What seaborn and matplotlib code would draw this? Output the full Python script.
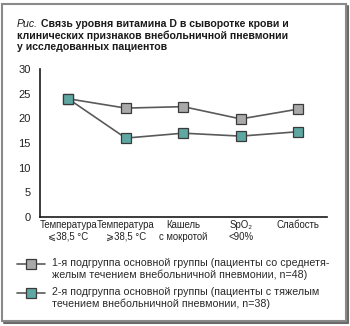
import matplotlib
matplotlib.use("Agg")
import matplotlib.pyplot as plt
import seaborn as sns
import pandas as pd
from matplotlib.patches import Rectangle
from matplotlib.lines import Line2D

# ---- data ----
categories = ["Температура\n⩽38,5 °C", "Температура\n⩾38,5 °C",
              "Кашель\nс мокротой", "SpO₂\n<90%", "Слабость"]
group1_values = [24.0, 22.1, 22.4, 19.9, 21.9]
group2_values = [24.0, 16.0, 17.0, 16.4, 17.3]
series_labels = [
    "1-я подгруппа основной группы (пациенты со среднетя-\nжелым течением внебольничной пневмонии, n=48)",
    "2-я подгруппа основной группы (пациенты с тяжелым\nтечением внебольничной пневмонии, n=38)",
]
y_ticks = [0, 5, 10, 15, 20, 25, 30]
title_prefix = "Рис."
title_lines = ["Связь уровня витамина D в сыворотке крови и",
               "клинических признаков внебольничной пневмонии",
               "у исследованных пациентов"]

# ---- style ----
sns.set_style("white")
FAM = ["Liberation Sans", "DejaVu Sans"]
plt.rcParams["font.family"] = FAM

W, H = 350, 326
fig = plt.figure(figsize=(W / 100, H / 100), dpi=100)

def fx(px):
    return px / W

def fy(py):
    return 1 - py / H

# axes placement
left, right, top, bottom = 39.5, 327, 69.3, 216.7
ax = fig.add_axes([fx(left), fy(bottom), fx(right - left), (bottom - top) / H])

fill_colors = ["#a9a9a9", "#5ea7a3"]
line_color = "#5a5a5a"
edge_color = "#3a3a3a"
MS = 6.8

df = pd.DataFrame({
    "category": categories * 2,
    "value": group1_values + group2_values,
    "group": [series_labels[0]] * len(categories) + [series_labels[1]] * len(categories),
})

for lab, fc in zip(series_labels, fill_colors):
    sub = df[df["group"] == lab]
    sns.lineplot(data=sub, x="category", y="value", ax=ax, sort=False,
                 color=line_color, lw=1.2, marker="s", markersize=MS,
                 markerfacecolor=fc, markeredgecolor=edge_color,
                 markeredgewidth=0.9, legend=False)

ax.set_xlim(-0.5, len(categories) - 0.5)
ax.set_ylim(0, 30)
ax.set_yticks(y_ticks)
ax.set_yticklabels([str(t) for t in y_ticks])
ax.set_xlabel("")
ax.set_ylabel("")

# tick marks at category boundaries, labels at category centres
ax.set_xticks([i + 0.5 for i in range(len(categories))])
ax.set_xticklabels([])
ax.set_xticks(range(len(categories)), minor=True)
ax.set_xticklabels(categories, minor=True)
ax.tick_params(axis="x", which="major", direction="in", length=3, width=1,
               color="#222222", labelbottom=False)
ax.tick_params(axis="x", which="minor", length=0, pad=2.5,
               labelsize=6.9, labelcolor="#222222")
ax.tick_params(axis="y", direction="in", length=5, width=1, color="#222222",
               pad=6.5, labelsize=8, labelcolor="#222222")

for s in ["top", "right"]:
    ax.spines[s].set_visible(False)
for s in ["left", "bottom"]:
    ax.spines[s].set_color("#1a1a1a")
    ax.spines[s].set_linewidth(1.2)
ax.grid(False)
ax.set_facecolor("none")

# ---- title ----
tcol = "#1a1a1a"
TS = 7.6
t0 = fig.text(fx(17), fy(24), title_prefix, style="italic", fontsize=TS,
              color=tcol, va="center", ha="left")
ax.annotate(title_lines[0], xy=(1, 0.5), xycoords=t0, xytext=(3, 0),
            textcoords="offset pixels", va="center", ha="left",
            fontsize=TS, fontweight="bold", color=tcol, annotation_clip=False)
fig.text(fx(17), fy(35.5), title_lines[1], fontsize=TS, fontweight="bold",
         color=tcol, va="center", ha="left")
fig.text(fx(17), fy(46.5), title_lines[2], fontsize=TS, fontweight="bold",
         color=tcol, va="center", ha="left")

# ---- legend (drawn manually) ----
marker_y = [264.3, 293.3]
text_y = [268.7, 298.0]
for lab, fc, my, ty in zip(series_labels, fill_colors, marker_y, text_y):
    ln = Line2D([fx(17), fx(31), fx(45)], [fy(my)] * 3, transform=fig.transFigure,
                color=line_color, lw=1.2, marker="s", markersize=MS,
                markerfacecolor=fc, markeredgecolor=edge_color,
                markeredgewidth=0.9, markevery=[1])
    fig.add_artist(ln)
    fig.text(fx(52), fy(ty), lab, fontsize=7.7, color="#2a2a2a",
             va="center", ha="left", linespacing=1.18)

# ---- outer frame ----
fig.add_artist(Rectangle((fx(2), fy(321)), fx(344), (321 - 4) / H,
                         transform=fig.transFigure, fill=False,
                         edgecolor="#8a8a8a", lw=1.5))
fig.add_artist(Line2D([fx(347.5), fx(347.5)], [fy(6), fy(322.5)],
                      transform=fig.transFigure, color="#6a6a6a", lw=1.5))
fig.add_artist(Line2D([fx(4), fx(347.5)], [fy(322.5), fy(322.5)],
                      transform=fig.transFigure, color="#6a6a6a", lw=1.5))

fig.savefig("out.png", dpi=100)
